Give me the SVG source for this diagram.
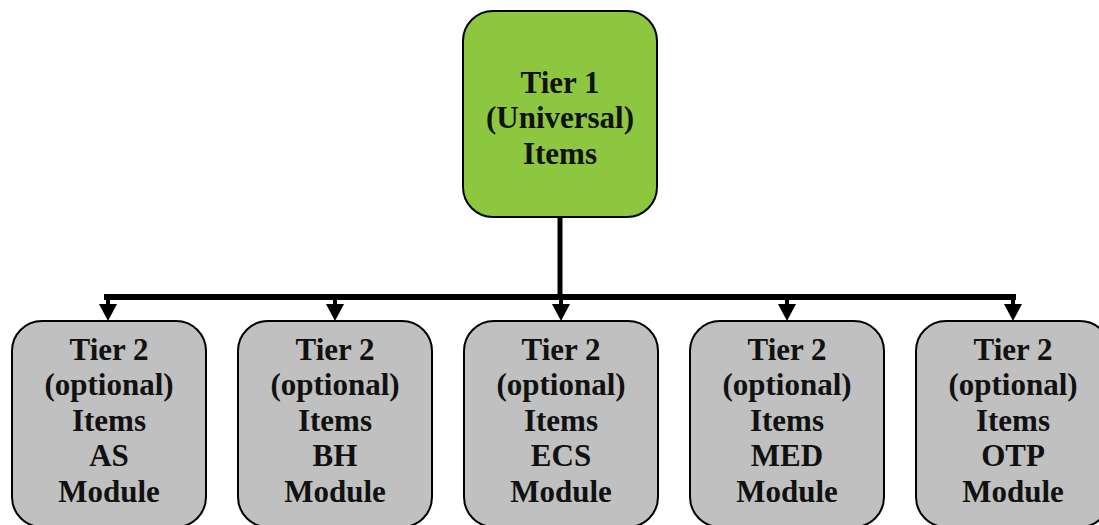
<svg xmlns="http://www.w3.org/2000/svg" width="1099" height="525" viewBox="0 0 1099 525">
<style>
.box{stroke:#000;stroke-width:2}
.g{fill:#8DC63F}
.s{fill:#C0C0C0}
text{font-family:"Liberation Serif","Times New Roman",serif;font-weight:bold;font-size:31px;fill:#111;text-anchor:middle}
.c{stroke:#000;fill:none}
.h{fill:#000}
</style>
<g id="connectors">
<line class="c" x1="560" y1="217" x2="560" y2="297" stroke-width="5"/>
<line class="c" x1="104" y1="297" x2="1016" y2="297" stroke-width="6"/>
<line class="c" x1="108" y1="297" x2="108" y2="306" stroke-width="4"/>
<line class="c" x1="335" y1="297" x2="335" y2="306" stroke-width="4"/>
<line class="c" x1="561" y1="297" x2="561" y2="306" stroke-width="4"/>
<line class="c" x1="787" y1="297" x2="787" y2="306" stroke-width="4"/>
<line class="c" x1="1013" y1="297" x2="1013" y2="306" stroke-width="4"/>
<polygon class="h" points="99,304 117,304 108,321"/>
<polygon class="h" points="326,304 344,304 335,321"/>
<polygon class="h" points="552,304 570,304 561,321"/>
<polygon class="h" points="778,304 796,304 787,321"/>
<polygon class="h" points="1004,304 1022,304 1013,321"/>
</g>
<g id="tier1">
<rect class="box g" x="463" y="11" width="194" height="206" rx="30"/>
<text x="560" y="93">Tier 1</text>
<text x="560" y="128">(Universal)</text>
<text x="560" y="164">Items</text>
</g>
<g id="as">
<rect class="box s" x="12" y="321" width="194" height="206" rx="30"/>
<text x="109" y="360">Tier 2</text>
<text x="109" y="395">(optional)</text>
<text x="109" y="431">Items</text>
<text x="109" y="466">AS</text>
<text x="109" y="502">Module</text>
</g>
<g id="bh">
<rect class="box s" x="238" y="321" width="194" height="206" rx="30"/>
<text x="335" y="360">Tier 2</text>
<text x="335" y="395">(optional)</text>
<text x="335" y="431">Items</text>
<text x="335" y="466">BH</text>
<text x="335" y="502">Module</text>
</g>
<g id="ecs">
<rect class="box s" x="464" y="321" width="194" height="206" rx="30"/>
<text x="561" y="360">Tier 2</text>
<text x="561" y="395">(optional)</text>
<text x="561" y="431">Items</text>
<text x="561" y="466">ECS</text>
<text x="561" y="502">Module</text>
</g>
<g id="med">
<rect class="box s" x="690" y="321" width="194" height="206" rx="30"/>
<text x="787" y="360">Tier 2</text>
<text x="787" y="395">(optional)</text>
<text x="787" y="431">Items</text>
<text x="787" y="466">MED</text>
<text x="787" y="502">Module</text>
</g>
<g id="otp">
<rect class="box s" x="916" y="321" width="194" height="206" rx="30"/>
<text x="1013" y="360">Tier 2</text>
<text x="1013" y="395">(optional)</text>
<text x="1013" y="431">Items</text>
<text x="1013" y="466">OTP</text>
<text x="1013" y="502">Module</text>
</g>
</svg>
